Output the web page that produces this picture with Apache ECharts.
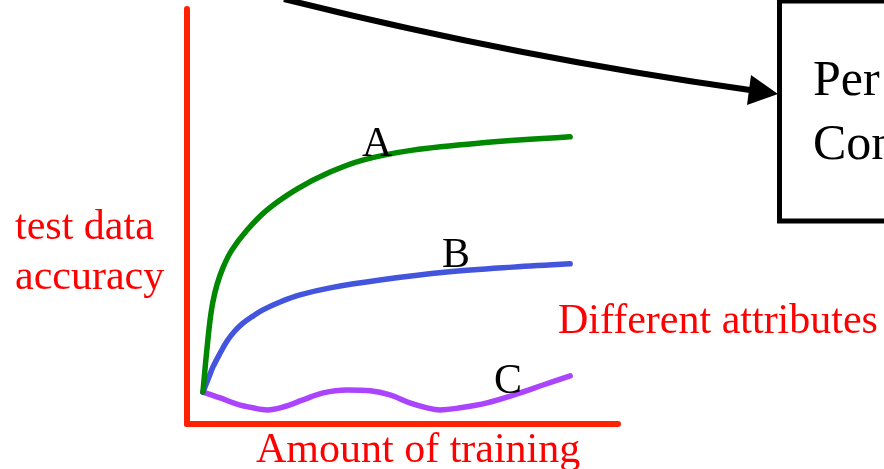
<!DOCTYPE html>
<html>
<head>
<meta charset="utf-8">
<script src="https://cdn.jsdelivr.net/npm/echarts@6/dist/echarts.min.js"></script>
<style>
  html, body { margin: 0; padding: 0; background: #ffffff; }
  #chart { width: 884px; height: 469px; }
</style>
</head>
<body>
<div id="chart"></div>
<script>
// Amount of training (0..10) and test data accuracy (0..100) for three attribute sets
const xA = [0.37, 0.42, 0.46, 0.53, 0.60, 0.70, 0.84, 1.04, 1.39, 1.86, 2.55, 3.32, 4.08, 5.24, 6.80, 8.89];
const yA = [7.7, 13.5, 17.8, 24.6, 29.4, 33.7, 37.8, 41.9, 46.7, 51.6, 56.6, 60.7, 63.6, 66.0, 67.7, 69.2];

const xB = [0.37, 0.49, 0.60, 0.77, 0.93, 1.11, 1.30, 1.53, 1.76, 2.16, 2.62, 3.32, 4.48, 6.03, 7.56, 8.89];
const yB = [7.7, 10.8, 13.7, 17.1, 20.0, 22.4, 24.3, 26.0, 27.5, 29.4, 31.1, 32.8, 34.7, 36.6, 37.8, 38.6];

const xC = [0.37, 0.77, 1.16, 1.53, 1.86, 2.23, 2.69, 3.16, 3.71, 4.25, 4.71, 5.17, 5.57, 5.87, 6.33, 6.96, 7.73, 8.26, 8.89];
const yC = [7.7, 6.3, 4.8, 3.9, 3.4, 4.1, 5.8, 7.5, 8.2, 8.0, 7.0, 5.1, 3.9, 3.4, 3.9, 5.1, 7.5, 9.4, 11.6];

const seriesNames = ['A', 'B', 'C'];
const seriesColors = ['#008800', '#4455dd', '#aa44ff'];
const yAxisTitle = ['test data', 'accuracy'];
const xAxisTitle = 'Amount of training';
const sideNote = 'Different attributes';
const boxLines = ['Per', 'Con'];

const zip = (xs, ys) => xs.map((x, i) => [x, ys[i]]);
const curves = [zip(xA, yA), zip(xB, yB), zip(xC, yC)];

const SERIF = '"Liberation Serif", "DejaVu Serif", serif';
const RED = '#ff0000';

const chart = echarts.init(document.getElementById('chart'), null, { renderer: 'canvas' });

const axisCommon = {
  type: 'value',
  min: 0,
  axisLine: { show: true, onZero: false, lineStyle: { color: '#ff2200', width: 6 } },
  axisTick: { show: false },
  axisLabel: { show: false },
  splitLine: { show: false }
};

function txt(text, x, y, size, color) {
  return {
    type: 'text',
    left: x,
    top: y,
    style: {
      text: text,
      fill: color,
      font: size + 'px ' + SERIF,
      verticalAlign: 'top'
    },
    z: 10
  };
}

chart.setOption({
  animation: false,
  backgroundColor: '#ffffff',
  grid: { left: 187, right: 266, top: 9, bottom: 45, containLabel: false },
  xAxis: Object.assign({}, axisCommon, { max: 10 }),
  yAxis: Object.assign({}, axisCommon, { max: 100 }),
  series: curves.map((d, i) => ({
    name: seriesNames[i],
    type: 'line',
    data: d,
    smooth: 0.35,
    symbol: 'none',
    lineStyle: { color: seriesColors[i], width: 5.5, cap: 'round', join: 'round' },
    z: 3 - i
  })),
  graphic: [
    // curved pointer to the box on the right
    {
      type: 'bezierCurve',
      shape: { x1: 284, y1: -1, x2: 750, y2: 90, cpx1: 516, cpy1: 57 },
      style: { stroke: '#000000', lineWidth: 6, fill: null }
    },
    {
      type: 'polygon',
      shape: { points: [[778, 94], [751, 75], [747, 105]] },
      style: { fill: '#000000' }
    },
    {
      type: 'rect',
      shape: { x: 779.5, y: 1, width: 200, height: 220 },
      style: { stroke: '#000000', lineWidth: 5, fill: null }
    },
    txt(boxLines[0], 813, 57, 50, '#000000'),
    txt(boxLines[1], 813, 121, 50, '#000000'),
    // curve labels
    txt(seriesNames[0], 362, 124, 42, '#000000'),
    txt(seriesNames[1], 442, 235, 42, '#000000'),
    txt(seriesNames[2], 494, 361, 42, '#000000'),
    // axis titles
    txt(yAxisTitle[0], 15, 207, 42, RED),
    txt(yAxisTitle[1], 15, 257, 42, RED),
    txt(xAxisTitle, 256, 430, 42, RED),
    txt(sideNote, 558, 301, 42, RED)
  ]
});
</script>
</body>
</html>
